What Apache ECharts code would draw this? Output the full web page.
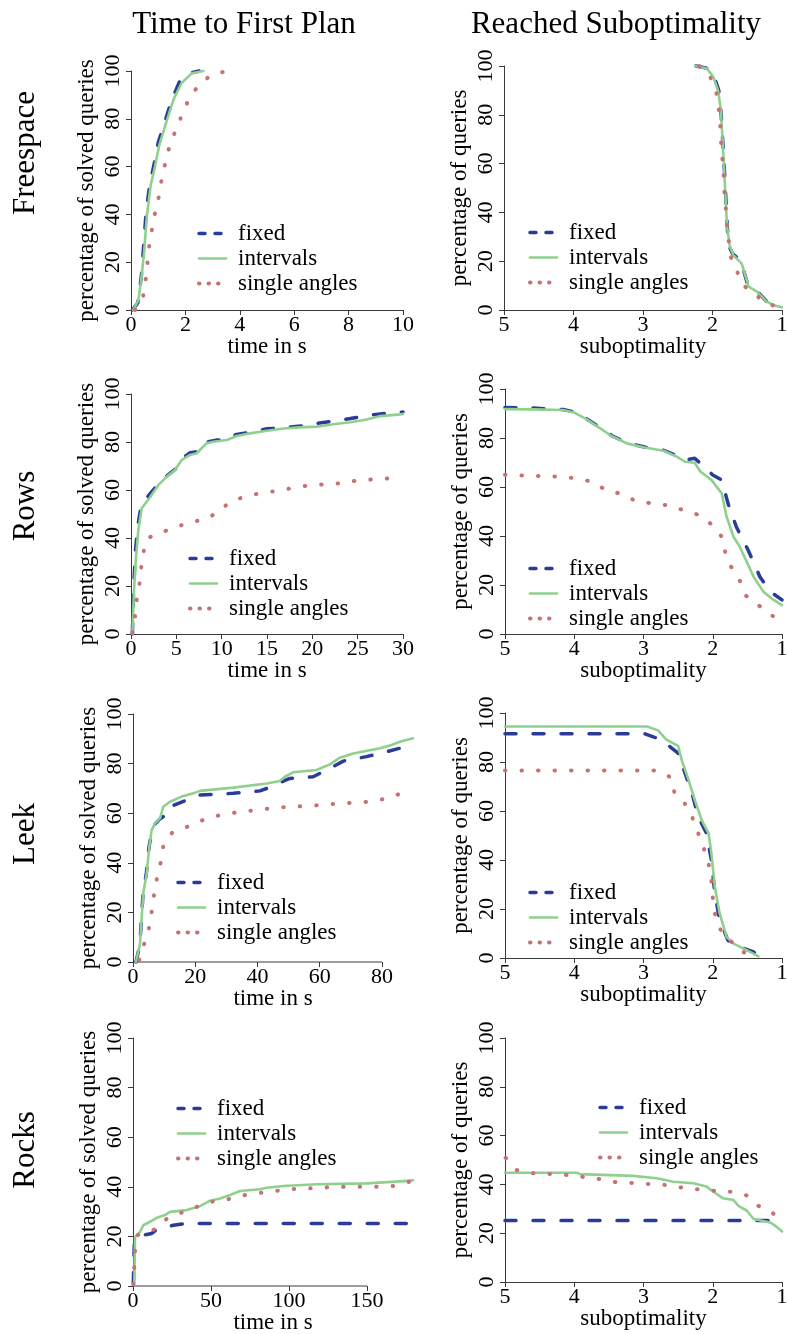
<!DOCTYPE html>
<html><head><meta charset="utf-8">
<script src="https://cdn.jsdelivr.net/npm/echarts@6/dist/echarts.min.js"></script>
<style>html,body{margin:0;padding:0;background:#fff}#c{width:787px;height:1334px}</style>
</head><body><div id="c"></div>
<script>
// ---------- texts ----------
const seriesNames = ['fixed', 'intervals', 'single angles'];
const columnTitles = ['Time to First Plan', 'Reached Suboptimality'];
const rowTitles = ['Freespace', 'Rows', 'Leek', 'Rocks'];
const timeXTitle = 'time in s';
const subXTitle = 'suboptimality';
const timeYTitle = 'percentage of solved queries';
const subYTitle = 'percentage of queries';

// ---------- tick labels ----------
const yTicks = [0, 20, 40, 60, 80, 100];
const freespaceTimeTicks = [0, 2, 4, 6, 8, 10];
const rowsTimeTicks = [0, 5, 10, 15, 20, 25, 30];
const leekTimeTicks = [0, 20, 40, 60, 80];
const rocksTimeTicks = [0, 50, 100, 150];
const subTicks = [5, 4, 3, 2, 1];
// time range covered by each left plot (may run past the last tick)
const freespaceTimeEnd = 10, rowsTimeEnd = 30, leekTimeEnd = 90, rocksTimeEnd = 179.5;

// ---------- data: [x, percentage] ----------
const fsTimeFixed = [[0.05,0],[0.25,3],[0.38,14],[0.46,26],[0.55,40],[0.68,52],[0.85,61],[1.0,70],[1.25,79],[1.5,88],[1.8,96],[2.1,99],[2.5,100]];
const fsTimeIntervals = [[0.08,0],[0.27,4],[0.39,14],[0.48,24],[0.58,39],[0.72,52],[0.88,60],[1.04,69],[1.31,79],[1.56,88],[1.86,95],[2.23,99],[2.66,100]];
const fsTimeSingle = [[0.15,0],[0.45,6],[0.54,12.6],[0.6,19],[0.66,26],[0.76,33],[0.85,39],[1.0,46],[1.1,53],[1.21,59],[1.35,66],[1.53,72],[1.75,78],[1.95,84],[2.21,90],[2.57,95],[3.0,98.7],[3.58,100]];

const fsSubFixed = [[2.24,100],[2.06,99],[1.98,96],[1.91,90],[1.875,80],[1.85,68],[1.83,58],[1.805,44],[1.785,33],[1.76,26],[1.71,23],[1.59,20],[1.49,10],[1.37,8],[1.22,3.5],[1.08,1.8],[1.0,1.2]];
const fsSubIntervals = [[2.25,100],[2.08,99],[1.99,95.6],[1.92,90],[1.88,82],[1.855,70],[1.835,59],[1.81,45],[1.79,34],[1.75,26],[1.70,22.5],[1.58,19],[1.48,9.6],[1.36,7.5],[1.22,3.4],[1.08,1.6],[1.0,1.1]];
const fsSubSingle = [[2.19,100],[2.04,96],[1.95,90],[1.91,83],[1.89,76.5],[1.88,70],[1.86,63],[1.84,56],[1.83,49],[1.81,42],[1.79,35.5],[1.77,29],[1.74,22],[1.65,16],[1.55,10],[1.39,6.4],[1.22,2.7],[1.0,0.7]];

const rowsTimeFixed = [[0.15,0],[0.3,20],[0.5,35],[0.75,45],[1.1,53],[2,58],[3,62.5],[4,66],[5,69],[5.6,73],[6.5,75.5],[7.3,76],[8.3,80],[9.5,80.8],[10.5,81],[11.5,83],[13,84],[15,85.5],[17,86],[19,86.8],[21,88],[23,89],[25,90.3],[27,91.5],[29,92.2],[30,92.5]];
const rowsTimeIntervals = [[0.15,0],[0.33,18],[0.55,32],[0.8,43],[1.18,52.4],[2.1,57],[3.0,62],[3.93,65.5],[4.85,68.3],[5.59,72.5],[6.5,74.6],[7.24,75.3],[8.35,79.5],[9.07,80.1],[10.55,80.8],[11.65,82.5],[13.1,83.6],[15,84.7],[16.8,85.6],[18.6,86.1],[20.5,86.4],[22.3,87.4],[24.2,88.2],[26,89.4],[27.5,90.8],[29.7,91.5],[30,91.7]];
const rowsTimeSingle = [[0.15,0.5],[0.44,7],[0.62,14],[0.92,20],[1.1,27],[1.36,34],[1.84,40],[3.5,42.5],[5.04,44.7],[6.73,46.7],[8.45,48],[9.81,51.7],[11.1,55.4],[12.8,57.5],[14.6,58.9],[16.35,59.7],[18.1,61.1],[19.9,62],[21.6,62.4],[23.4,62.9],[25.25,64.2],[27,64.4],[28.7,64.9],[30,65]];

const rowsSubFixed = [[5,92.4],[4.59,92.2],[4.16,91.6],[3.99,90.6],[3.82,87.8],[3.63,84.3],[3.46,81],[3.24,78],[3.0,76.4],[2.71,75],[2.52,72.8],[2.40,71],[2.26,71.7],[2.18,69.7],[2.0,64.9],[1.87,62.9],[1.78,53.3],[1.66,43.8],[1.49,34.3],[1.32,23.4],[1.17,17.3],[1.0,13.9]];
const rowsSubIntervals = [[5,91.8],[4.59,91.7],[4.16,91.4],[3.99,90.3],[3.82,87.6],[3.63,84],[3.46,80.8],[3.24,77.8],[3.0,76.2],[2.71,74.8],[2.52,72.4],[2.40,70.3],[2.26,69.9],[2.18,66.3],[2.02,62.9],[1.87,57.4],[1.80,47.9],[1.70,39.7],[1.61,35.6],[1.41,23.4],[1.27,17.3],[1.12,13.9],[1.0,11.8]];
const rowsSubSingle = [[5,65],[4.69,64.6],[4.45,64.5],[4.21,64.2],[3.96,63.5],[3.72,62],[3.55,58.8],[3.31,57.1],[3.12,54.4],[2.88,53.3],[2.64,52.5],[2.43,50.6],[2.20,48.6],[2.02,44.8],[1.87,39.7],[1.82,33.5],[1.73,27.2],[1.61,21.8],[1.52,15.6],[1.34,11.8],[1.18,8.2],[1.0,4.8]];

const leekTimeFixed = [[0.96,0],[2.2,7],[3.2,27],[4.3,36],[5.1,46],[5.9,52],[7,55.5],[8.5,57.5],[9.74,58.6],[10.8,62],[17.2,65.3],[21.5,67.3],[32.2,68],[40.8,69],[43,70],[46.2,71.8],[50.4,74],[57.9,74.7],[62.2,77.4],[67.6,81],[75,82.8],[79.4,84.1],[85.8,86.2],[90,88.2]];
const leekTimeIntervals = [[0.96,0],[2.25,7.5],[3.3,27.7],[4.4,35.8],[5.24,46.5],[6.0,53.2],[7.07,55.9],[8.67,57.9],[9.74,62.6],[11.9,64.6],[15.6,66.7],[19.4,68],[21.5,69],[32.2,70.3],[43,72],[47.2,73],[48.8,74.7],[51.5,76.5],[59,77.4],[63.3,79.7],[66.5,82.4],[70.8,84.1],[79.4,86.2],[83.1,87.5],[85.8,88.8],[90,90.2]];
const leekTimeSingle = [[2.0,0.8],[3.6,7.3],[5.1,13.6],[6.0,20.3],[6.75,27],[7.7,33.7],[8.9,40.2],[9.74,46.9],[12.6,52.1],[17.6,54.6],[22.2,57.1],[27.2,59],[32.5,60.2],[37.8,61],[43.3,61.8],[48.6,62.4],[54,62.8],[59.5,63.2],[64.9,63.8],[70.3,64.2],[75.6,64.6],[81,65.8],[86.3,68],[90,68.3]];

const leekSubFixed = [[5,91.5],[2.98,91.5],[2.81,89.8],[2.62,86.3],[2.50,83.6],[2.40,75.4],[2.30,67.3],[2.21,57.7],[2.09,50.9],[2.02,40],[1.97,26.4],[1.90,15.4],[1.78,7.2],[1.61,4.5],[1.41,2.5],[1.34,0.4]];
const leekSubIntervals = [[5,94.5],[2.95,94.5],[2.79,92.9],[2.67,89.1],[2.50,86.6],[2.45,80.9],[2.35,72.7],[2.26,64.5],[2.16,56.3],[2.06,50.9],[2.02,42.7],[1.97,29],[1.90,18.2],[1.80,8.6],[1.70,5.9],[1.51,3.2],[1.34,0.7]];
const leekSubSingle = [[5,76.5],[2.81,76.5],[2.61,73.8],[2.55,67.3],[2.40,62.9],[2.29,57],[2.21,50.9],[2.13,44.8],[2.06,38.6],[2.02,31.8],[2.0,24.7],[1.97,18.2],[1.90,12],[1.75,7.2],[1.58,2.5],[1.36,0.7]];

const rocksTimeFixed = [[0.2,1],[0.85,17.1],[2.4,19.8],[6.6,20.5],[12,21.2],[15.2,22.8],[25.8,24.5],[34.4,25.2],[179.5,25.2]];
const rocksTimeIntervals = [[0.85,1],[1.3,19.8],[4.5,21.8],[6.6,24.5],[10.9,25.9],[15.2,27.5],[20.5,28.6],[23.7,29.9],[34.4,30.6],[42.9,32.2],[49.4,34.4],[55.8,35.3],[62.2,36.7],[68.6,38.3],[81.4,39],[85.7,39.6],[96.4,40.3],[117.8,41],[149.8,41.4],[171.2,42.2],[179.5,42.6]];
const rocksTimeSingle = [[0.2,0.7],[0.85,7.7],[1.3,14.4],[3.0,20.5],[13.7,22.8],[20.9,26.8],[30.8,29.5],[40.8,31.9],[50.9,34],[61.1,35],[71.8,36.7],[82.5,37.6],[92.7,38.4],[103.4,39.1],[114.5,39.4],[125.2,39.8],[136.3,40],[147,40],[157.7,40],[168.4,40.4],[178.7,42.3]];

const rocksSubFixed = [[5,25.2],[1,25.2]];
const rocksSubIntervals = [[5,44.8],[3.96,44.8],[3.92,44.2],[3.15,43.5],[2.81,42.5],[2.57,41.1],[2.28,40.5],[2.09,39.1],[1.99,37],[1.85,34.3],[1.70,33.6],[1.63,31.2],[1.51,29.3],[1.41,25.8],[1.17,24.4],[1.08,22.7],[1.0,20.7]];
const rocksSubSingle = [[4.99,50.9],[4.83,45.9],[4.61,44.6],[4.36,44.3],[4.12,43.9],[3.88,43.1],[3.64,42.2],[3.41,41],[3.17,40.6],[2.93,40.2],[2.69,39.8],[2.45,38.7],[2.22,38],[1.98,37.4],[1.74,37],[1.50,35.4],[1.34,31.2],[1.13,28.2],[1.0,23.1]];

// ---------- panel assembly ----------
const panels = [
  {kind:'time', ticks:freespaceTimeTicks, end:freespaceTimeEnd, data:[fsTimeFixed, fsTimeIntervals, fsTimeSingle]},
  {kind:'sub', ticks:subTicks, data:[fsSubFixed, fsSubIntervals, fsSubSingle]},
  {kind:'time', ticks:rowsTimeTicks, end:rowsTimeEnd, data:[rowsTimeFixed, rowsTimeIntervals, rowsTimeSingle]},
  {kind:'sub', ticks:subTicks, data:[rowsSubFixed, rowsSubIntervals, rowsSubSingle]},
  {kind:'time', ticks:leekTimeTicks, end:leekTimeEnd, data:[leekTimeFixed, leekTimeIntervals, leekTimeSingle]},
  {kind:'sub', ticks:subTicks, data:[leekSubFixed, leekSubIntervals, leekSubSingle]},
  {kind:'time', ticks:rocksTimeTicks, end:rocksTimeEnd, data:[rocksTimeFixed, rocksTimeIntervals, rocksTimeSingle]},
  {kind:'sub', ticks:subTicks, data:[rocksSubFixed, rocksSubIntervals, rocksSubSingle]}
];

// ---------- layout (pixels): plot region of each panel ----------
const boxes = [
  {left:131, top:71,   width:272, height:239, lgLeft:197, lgTop:222},
  {left:504, top:66,   width:278, height:244, lgLeft:528, lgTop:221},
  {left:131, top:394,  width:272, height:240, lgLeft:188, lgTop:547},
  {left:505, top:389,  width:277, height:245, lgLeft:528, lgTop:557},
  {left:133, top:714,  width:280, height:248, lgLeft:176, lgTop:871},
  {left:505, top:713,  width:277, height:245, lgLeft:528, lgTop:881},
  {left:133, top:1038, width:280, height:248, lgLeft:176, lgTop:1097},
  {left:505, top:1038, width:277, height:244, lgLeft:598, lgTop:1096}
];
const colTitlePos = [{x:244, y:25}, {x:616, y:25}];
const rowTitlePos = [{x:26, y:153}, {x:26, y:506}, {x:26, y:834}, {x:26, y:1150}];

const FONT = 'Liberation Serif';
const AXIS_COLOR = '#3a3a3a';
const seriesStyle = {
  'fixed':         {color:'#2b3b98', width:3.5, type:[11, 17], cap:'round'},
  'intervals':     {color:'#8fd08f', width:2.6, type:'solid', cap:'round'},
  'single angles': {color:'#c47272', width:4,   type:[0.5, 16], cap:'round'}
};
const legendDash = {'fixed':[6, 10], 'intervals':'solid', 'single angles':[0.5, 9]};

const grids = [], xAxes = [], yAxes = [], series = [], legends = [];
panels.forEach((p, i) => {
  const b = boxes[i];
  grids.push({left:b.left, top:b.top, width:b.width, height:b.height, containLabel:false, outerBoundsMode:'none'});
  const first = p.ticks[0], last = p.ticks[p.ticks.length - 1];
  const lo = Math.min(first, last), hi = Math.max(first, last);
  const end = p.kind === 'time' ? p.end : hi;
  const runsPast = end > hi;
  xAxes.push({
    gridIndex:i, type:'value', min:lo, max:end, interval:Math.abs(p.ticks[1]-p.ticks[0]),
    inverse: p.kind === 'sub',
    name: p.kind === 'time' ? timeXTitle : subXTitle,
    nameLocation:'middle', nameGap:25, nameMoveOverlap:false,
    nameTextStyle:{fontFamily:FONT, fontSize:23, color:'#000'},
    splitLine:{show:false},
    axisLine:{show:!runsPast, onZero:false, lineStyle:{color:AXIS_COLOR, width:1}},
    axisTick:{show:true, inside:false, length:5, customValues:p.ticks, lineStyle:{color:AXIS_COLOR, width:1}},
    axisLabel:{show:true, margin:4, customValues:p.ticks, fontFamily:FONT, fontSize:22, color:'#000',
      showMinLabel:true, showMaxLabel:true, hideOverlap:false}
  });
  yAxes.push({
    gridIndex:i, type:'value', min:0, max:100, interval:20,
    name: p.kind === 'time' ? timeYTitle : subYTitle,
    nameLocation:'middle', nameGap:33, nameMoveOverlap:false,
    nameTextStyle:{fontFamily:FONT, fontSize:23, color:'#000'},
    splitLine:{show:false},
    axisLine:{show:true, onZero:false, lineStyle:{color:AXIS_COLOR, width:1}},
    axisTick:{show:true, inside:false, length:5, customValues:yTicks, lineStyle:{color:AXIS_COLOR, width:1}},
    axisLabel:{show:true, rotate:90, margin:7, customValues:yTicks, fontFamily:FONT, fontSize:22, color:'#000',
      showMinLabel:true, showMaxLabel:true, hideOverlap:false}
  });
  if (runsPast) {
    // x axis line drawn only between first and last tick (as in the reference)
    series.push({
      type:'line', name:'_axis', xAxisIndex:i, yAxisIndex:i, data:[[lo, 0], [hi, 0]],
      symbol:'none', showSymbol:false, animation:false, silent:true, z:1, clip:false,
      lineStyle:{color:AXIS_COLOR, width:1, type:'solid'}
    });
  }
  seriesNames.forEach((n, k) => {
    const s = seriesStyle[n];
    series.push({
      type:'line', name:n, xAxisIndex:i, yAxisIndex:i, data:p.data[k],
      symbol:'none', showSymbol:false, clip:false, animation:false, silent:true,
      color:s.color, z:2 + k,
      lineStyle:{color:s.color, width:s.width, type:s.type, cap:s.cap, join:'round'}
    });
  });
  legends.push({
    left:b.lgLeft, top:b.lgTop, orient:'vertical', selectedMode:false,
    itemWidth:27, itemHeight:14, itemGap:2, padding:0,
    textStyle:{fontFamily:FONT, fontSize:23, color:'#000', lineHeight:20, padding:[0,0,0,7]},
    itemStyle:{color:'rgba(0,0,0,0)', borderWidth:0, opacity:0},
    data: seriesNames.map(n => ({name:n,
      itemStyle:{color:'rgba(0,0,0,0)', borderWidth:0, opacity:0},
      lineStyle:{type:legendDash[n], width:seriesStyle[n].width, color:seriesStyle[n].color, cap:'round', opacity:1}}))
  });
});

const graphics = [];
columnTitles.forEach((t, i) => graphics.push({
  type:'text', x:colTitlePos[i].x, y:colTitlePos[i].y,
  style:{text:t, font:'31px "' + FONT + '"', fill:'#000', textAlign:'center', textVerticalAlign:'middle', align:'center', verticalAlign:'middle'}
}));
rowTitles.forEach((t, i) => graphics.push({
  type:'text', x:rowTitlePos[i].x, y:rowTitlePos[i].y, rotation:Math.PI/2,
  style:{text:t, font:'31px "' + FONT + '"', fill:'#000', textAlign:'center', textVerticalAlign:'middle', align:'center', verticalAlign:'middle'}
}));

const chart = echarts.init(document.getElementById('c'), null, {renderer:'canvas'});
chart.setOption({
  animation:false, backgroundColor:'#fff',
  textStyle:{fontFamily:FONT},
  grid:grids, xAxis:xAxes, yAxis:yAxes, series:series, legend:legends, graphic:graphics
});
</script></body></html>
